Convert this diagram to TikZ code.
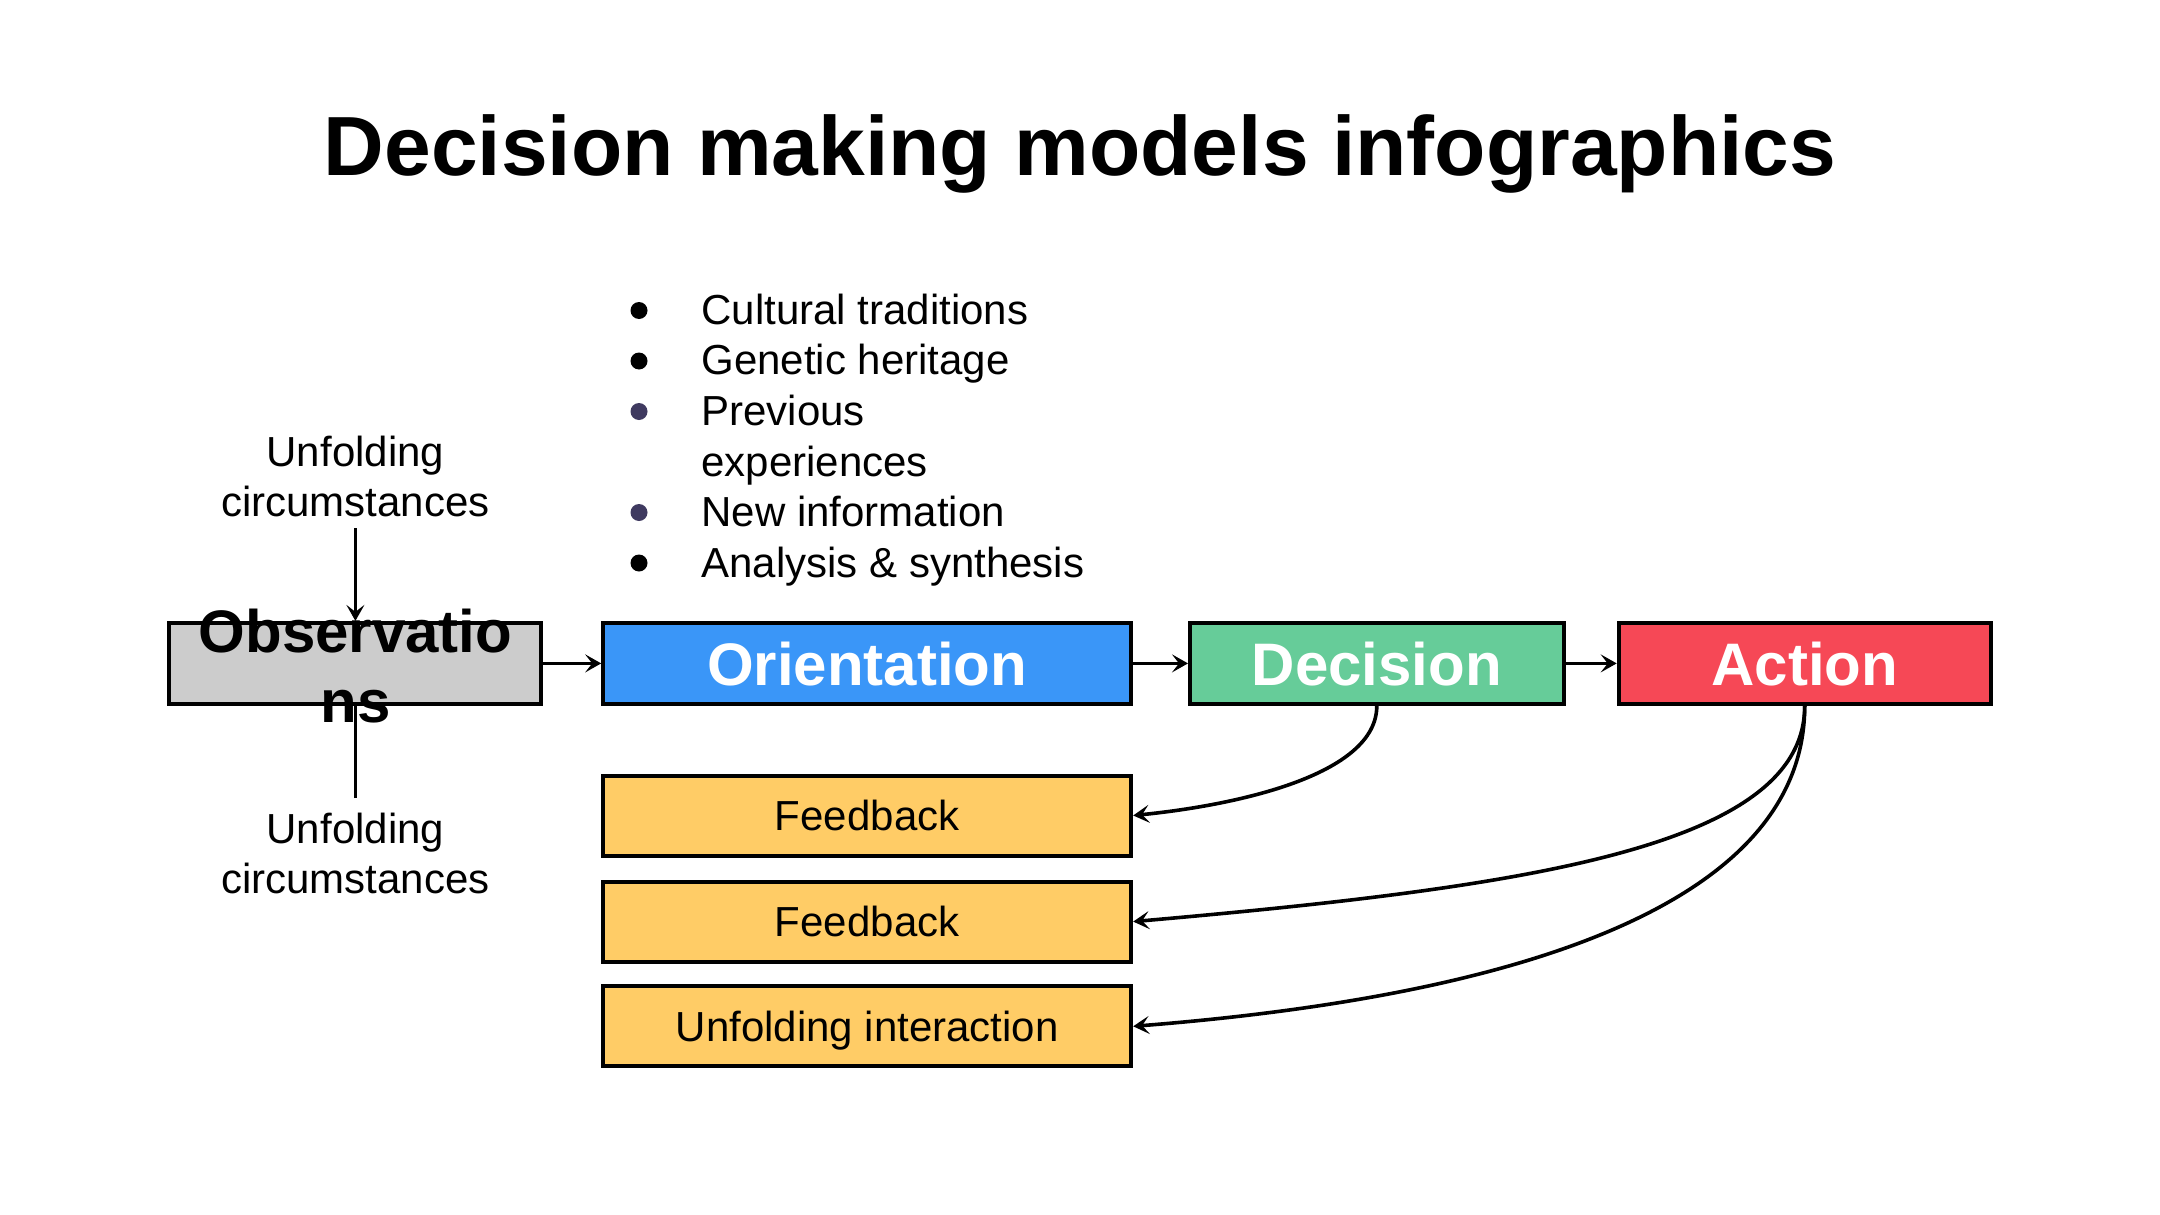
\documentclass[tikz,border=0pt]{standalone}
\usepackage{fontspec}
\setmainfont{Liberation Sans}
\usetikzlibrary{arrows.meta}
\definecolor{obsgray}{HTML}{CCCCCC}
\definecolor{oriblue}{HTML}{3A96F8}
\definecolor{decgreen}{HTML}{66CC99}
\definecolor{actred}{HTML}{F64856}
\definecolor{fbyellow}{HTML}{FFCC66}
\definecolor{bulletpurple}{HTML}{3F3A60}
\begin{document}
\begin{tikzpicture}[x=0.5pt,y=-0.5pt,
  box/.style={draw=black, line width=2pt, minimum height=40.5pt, inner sep=0pt,
    font=\fontsize{30}{35}\selectfont\bfseries, text=white, text height=21.6pt, text depth=0pt},
  fbbox/.style={draw=black, line width=2pt, fill=fbyellow, minimum width=264pt,
    minimum height=40pt, inner sep=0pt, font=\fontsize{21}{25}\selectfont,
    text height=15pt, text depth=0pt},
  lbl/.style={font=\fontsize{21}{25}\selectfont, align=center, inner sep=0pt},
  conn/.style={line width=1.8pt, -{Stealth[length=8pt,width=9pt,inset=3.5pt]}},
  plainline/.style={line width=1.8pt},
  dot/.style={circle, inner sep=0pt, minimum size=8.5pt},
]
\useasboundingbox[fill=white] (0,0) rectangle (2160,1215);

% title
\node[anchor=base, inner sep=0pt, font=\fontsize{42}{48}\selectfont\bfseries] (title) at (1080,175) {Decision making models infographics};

% main boxes
\node[box, fill=obsgray, minimum width=186pt] (obs) at (355.4,663.4) {};
\node[font=\fontsize{30}{35}\selectfont\bfseries, align=center, inner sep=0pt] (obstext) at (355.4,666) {Observatio\\ns};
\node[box, fill=oriblue, minimum width=264pt] (ori) at (867.2,663.4) {Orientation};
\node[box, fill=decgreen, minimum width=186.8pt] (dec) at (1376.8,663.4) {Decision};
\node[box, fill=actred, minimum width=186pt] (act) at (1804.7,663.4) {Action};

% feedback boxes
\node[fbbox] (fb1) at (867.2,815.5) {Feedback};
\node[fbbox] (fb2) at (867.2,921.6) {Feedback};
\node[fbbox] (ui) at (867.2,1026.3) {Unfolding interaction};

% labels
\node[lbl, anchor=north] (uctop) at (355.4,436) {Unfolding\\circumstances};
\node[lbl, anchor=north] (ucbot) at (355.4,813) {Unfolding\\circumstances};

% bullet list
\node[lbl, align=left, anchor=north west, font=\fontsize{21}{25.3}\selectfont] (list) at (701,293.5)
  {Cultural traditions\\Genetic heritage\\Previous\\experiences\\New information\\Analysis \& synthesis};
\node[dot, fill=black] (b1) at (639,310.5) {};
\node[dot, fill=black] (b2) at (639,361) {};
\node[dot, fill=bulletpurple] (b3) at (639,411.5) {};
\node[dot, fill=bulletpurple] (b4) at (639,512.5) {};
\node[dot, fill=black] (b5) at (639,563) {};

% connectors
\draw[conn] (obs) -- (ori);
\draw[conn] (ori) -- (dec);
\draw[conn] (dec) -- (act);
\coordinate (topin) at (355.4,528);
\coordinate (botin) at (355.4,798);
\draw[conn] (topin) -- (obs.north);
\draw[plainline] (botin) -- (obs.south);
\draw[conn] (dec.south) .. controls +(0,70) and +(100,-10) .. (fb1.east);
\draw[conn] (act.south) .. controls +(0,140) and +(400,-35) .. (fb2.east);
\draw[conn] (act.south) .. controls +(0,200) and +(380,-30) .. (ui.east);
\end{tikzpicture}
\end{document}
